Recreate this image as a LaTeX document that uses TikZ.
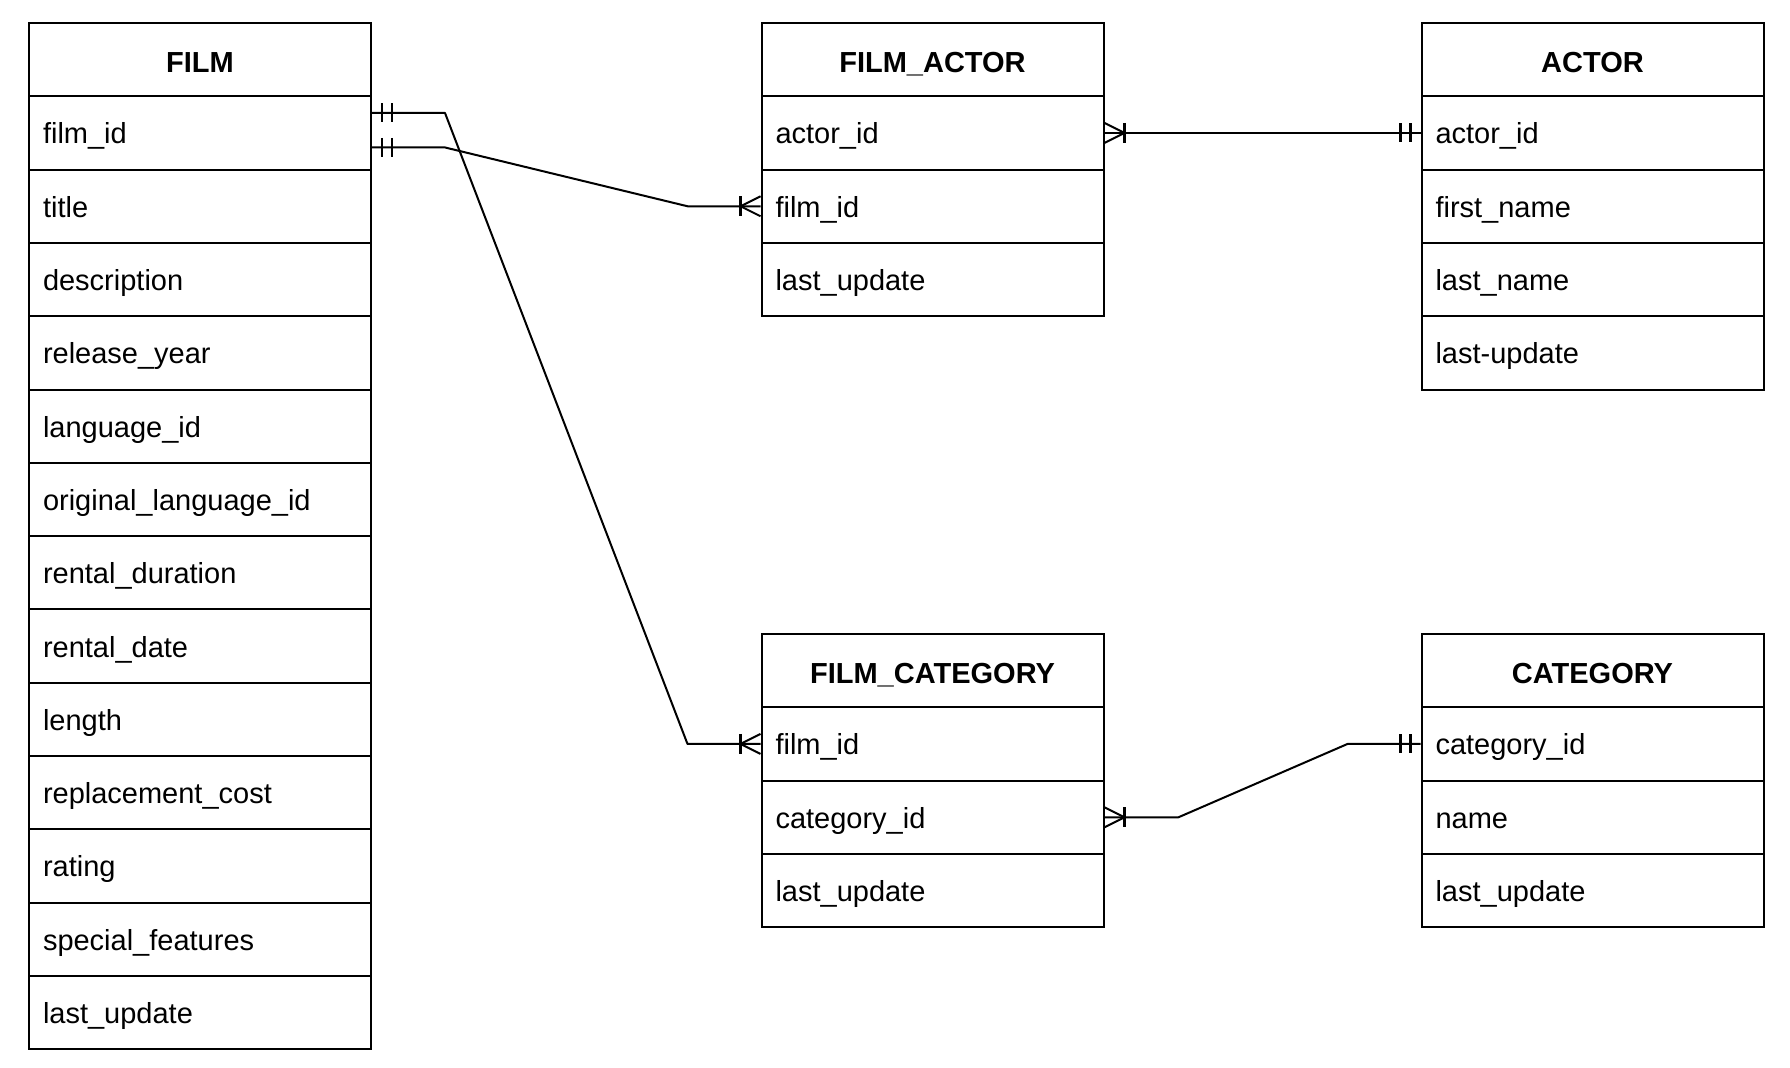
\documentclass[tikz,border=0pt]{standalone}
\usepackage{fontspec}
\setmainfont{Liberation Sans}
\usetikzlibrary{calc}
\tikzset{
  every picture/.style={font=\fontsize{14.5pt}{17pt}\selectfont},
  tblhead/.style={draw, line width=1pt, minimum width=171pt, minimum height=36.65pt, inner sep=0pt,
    text height=12.5pt, text depth=0pt, font=\fontsize{14.5pt}{17pt}\selectfont\bfseries},
  tblrow/.style={draw, line width=1pt, text width=157pt, minimum height=36.65pt, inner xsep=7pt, inner ysep=0pt,
    text height=11pt, text depth=0pt, align=left},
  rel/.style={line width=1pt, line join=round},
  onlyone/.pic={\draw[line width=1.3pt] (10,-9.5) -- (10,9.5) (20,-9.5) -- (20,9.5);},
  crowfoot/.pic={\draw[line width=1pt] (0,-10) -- (20,0) -- (0,10);
                 \draw[line width=1.3pt] (20,-10) -- (20,10);},
}
\begin{document}
\begin{tikzpicture}[x=0.5pt,y=-0.5pt]
  \useasboundingbox (0,0) rectangle (1790,1067);
  % tables
  \node[tblhead] (film) at (200,59.65) {FILM};
  \foreach \f [count=\i] in {film\_id, title, description, release\_year, language\_id,
      original\_language\_id, rental\_duration, rental\_date, length, replacement\_cost,
      rating, special\_features, last\_update}
    \node[tblrow] (film-\i) at (200,{59.65+73.3*\i}) {\f};
  \node[tblhead] (fa) at (932.5,59.65) {FILM\_ACTOR};
  \foreach \f [count=\i] in {actor\_id, film\_id, last\_update}
    \node[tblrow] (fa-\i) at (932.5,{59.65+73.3*\i}) {\f};
  \node[tblhead] (act) at (1592.5,59.65) {ACTOR};
  \foreach \f [count=\i] in {actor\_id, first\_name, last\_name, last-update}
    \node[tblrow] (act-\i) at (1592.5,{59.65+73.3*\i}) {\f};
  \node[tblhead] (fc) at (932.5,670.65) {FILM\_CATEGORY};
  \foreach \f [count=\i] in {film\_id, category\_id, last\_update}
    \node[tblrow] (fc-\i) at (932.5,{670.65+73.3*\i}) {\f};
  \node[tblhead] (cat) at (1592.5,670.65) {CATEGORY};
  \foreach \f [count=\i] in {category\_id, name, last\_update}
    \node[tblrow] (cat-\i) at (1592.5,{670.65+73.3*\i}) {\f};
  % relations
  \draw[rel] ($(film-1.east)+(0,-20)$) -- ++(73,0) -- ($(fc-1.west)+(-73,0)$) -- (fc-1.west);
  \draw[rel] ($(film-1.east)+(0,14.5)$) -- ++(73,0) -- ($(fa-2.west)+(-73,0)$) -- (fa-2.west);
  \draw[rel] (fa-1.east) -- (act-1.west);
  \draw[rel] (fc-2.east) -- ++(74,0) -- ($(cat-1.west)+(-73,0)$) -- (cat-1.west);
  \pic at ($(film-1.east)+(0,-20)$) {onlyone};
  \pic at ($(film-1.east)+(0,14.5)$) {onlyone};
  \pic[xscale=-1] at (act-1.west) {onlyone};
  \pic[xscale=-1] at (cat-1.west) {onlyone};
  \pic at (fa-1.east) {crowfoot};
  \pic at (fc-2.east) {crowfoot};
  \pic[xscale=-1] at (fa-2.west) {crowfoot};
  \pic[xscale=-1] at (fc-1.west) {crowfoot};
\end{tikzpicture}
\end{document}
